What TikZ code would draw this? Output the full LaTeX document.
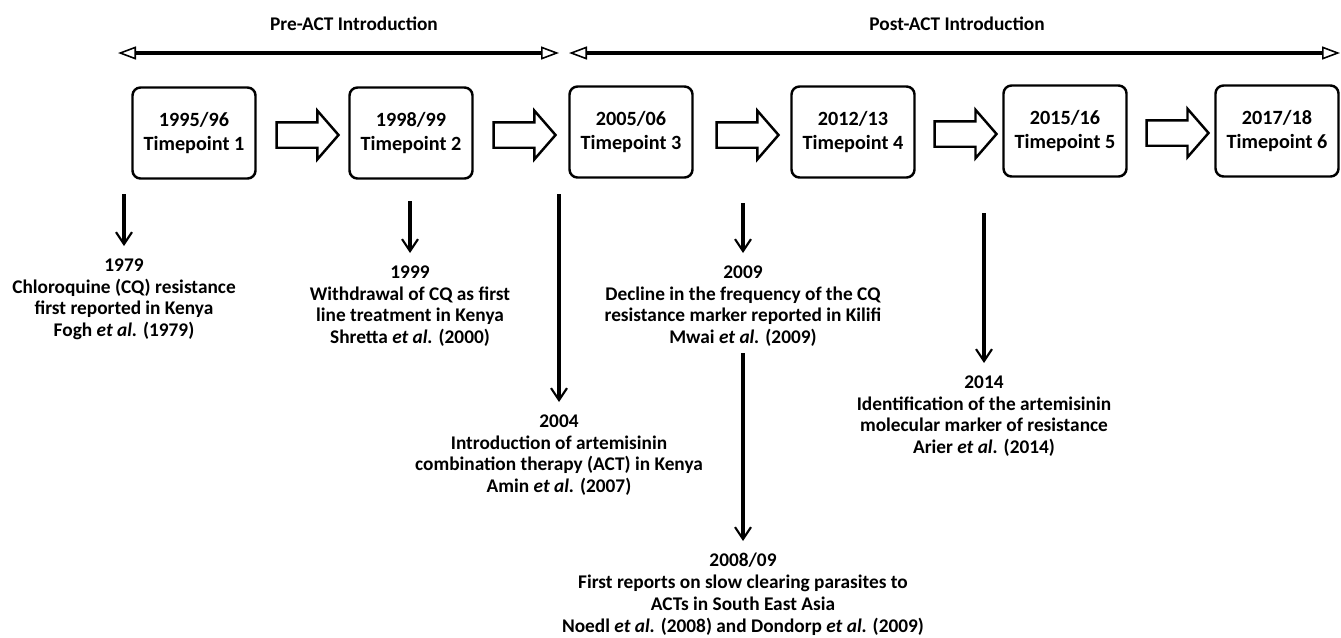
\documentclass[tikz,border=0pt]{standalone}
\usepackage{fontspec}
\setmainfont{Carlito}
\usetikzlibrary{arrows.meta,shapes.arrows}

\tikzset{
  tpbox/.style={draw, line width=1.4pt, rounded corners=1.6mm,
    minimum width=24.6mm, minimum height=18.2mm, align=center,
    font=\bfseries\fontsize{11.5}{13.5}\selectfont},
  nextarrow/.style={single arrow, draw, line width=1.4pt,
    inner xsep=0pt, inner ysep=2.3mm,
    minimum height=12.4mm,
    single arrow head extend=2.3mm, single arrow tip angle=98},
  phase/.style={line width=0.8mm,
    {Triangle[open,length=3.6mm,width=2.6mm,line width'=0.9pt]}-{Triangle[open,length=3.6mm,width=2.6mm,line width'=0.9pt]}},
  event/.style={align=center, anchor=north, inner sep=0pt},
  drop/.style={line width=0.65mm,
    -{Straight Barb[length=2.4mm,width=3.2mm,line width'=1.2pt]}, shorten >=2.4mm},
}

\begin{document}
\begin{tikzpicture}[x=0.2mm, y=-0.2mm, font=\bfseries\fontsize{11}{12.5}\selectfont]
    \useasboundingbox (0,0) rectangle (1341,637);

    % before / after ACT
    \node (pre)  at (354,24) {Pre-ACT Introduction};
    \node (post) at (957,24) {Post-ACT Introduction};
    \coordinate (pre l)  at (118,53);
    \coordinate (pre r)  at (559,53);
    \coordinate (post l) at (569,53);
    \coordinate (post r) at (1340,53);
    \draw [phase] (pre l) -- (pre r);
    \draw [phase] (post l) -- (post r);

    % sampling timepoints
    \node [tpbox] (tp1) at (194,133) {1995/96\\Timepoint 1};
    \node [tpbox] (tp2) at (411,133) {1998/99\\Timepoint 2};
    \node [tpbox] (tp3) at (631,132) {2005/06\\Timepoint 3};
    \node [tpbox] (tp4) at (853,132) {2012/13\\Timepoint 4};
    \node [tpbox] (tp5) at (1065,131) {2015/16\\Timepoint 5};
    \node [tpbox] (tp6) at (1277,131) {2017/18\\Timepoint 6};
    \node [nextarrow] (n1) at (302,135) {};
    \node [nextarrow] (n2) at (519,135) {};
    \node [nextarrow] (n3) at (742,135) {};
    \node [nextarrow] (n4) at (960,134) {};
    \node [nextarrow] (n5) at (1172,133) {};

    % events
    \coordinate (s1) at (124,194);
    \coordinate (s2) at (410,201);
    \coordinate (s3) at (559,194);
    \coordinate (s4) at (743,203);
    \coordinate (s5) at (743,353);
    \coordinate (s6) at (984,213);

    \node [event] (e1) at (124,258) {1979\\Chloroquine (CQ) resistance\\first reported in Kenya\\Fogh \textit{et al.} (1979)};
    \node [event] (e2) at (410,265) {1999\\Withdrawal of CQ as first\\line treatment in Kenya\\Shretta \textit{et al.} (2000)};
    \node [event] (e3) at (559,414) {2004\\Introduction of artemisinin\\combination therapy (ACT) in Kenya\\Amin \textit{et al.} (2007)};
    \node [event] (e4) at (743,265) {2009\\Decline in the frequency of the CQ\\resistance marker reported in Kilifi\\Mwai \textit{et al.} (2009)};
    \node [event] (e5) at (743,553) {2008/09\\First reports on slow clearing parasites to\\ACTs in South East Asia\\Noedl \textit{et al.} (2008) and Dondorp \textit{et al.} (2009)};
    \node [event] (e6) at (984,375) {2014\\Identification of the artemisinin\\molecular marker of resistance\\Arier \textit{et al.} (2014)};

    \foreach \i in {1,...,6}
        \draw [drop] (s\i) -- (s\i |- e\i.north);
\end{tikzpicture}
\end{document}
